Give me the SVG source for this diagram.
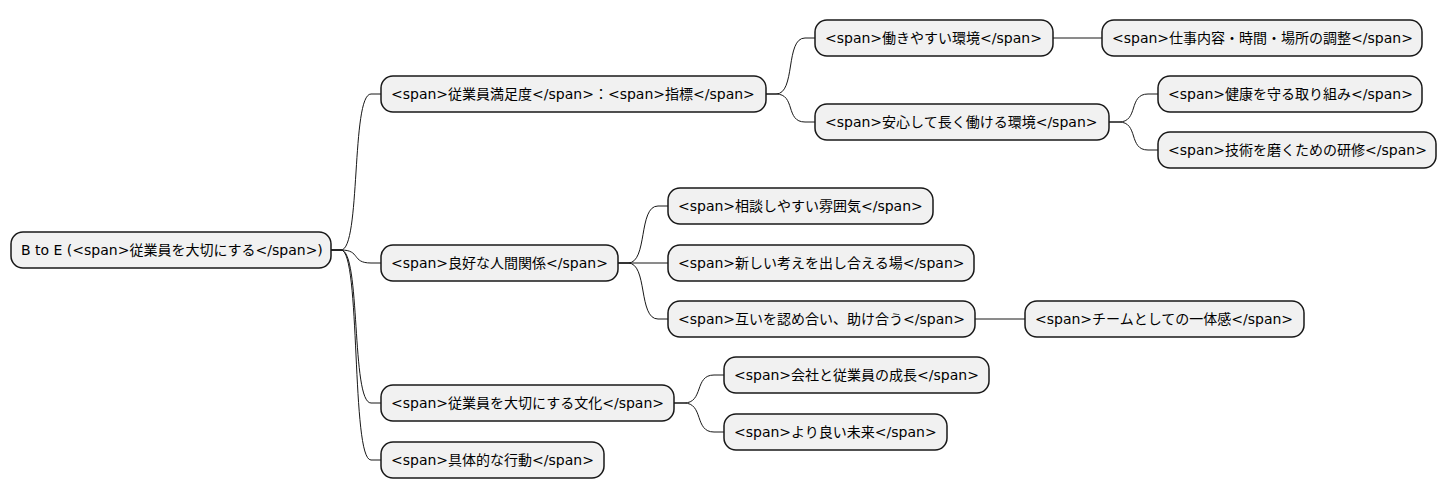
<svg xmlns="http://www.w3.org/2000/svg" width="1447" height="499" viewBox="0 0 1447 499">
<style>
.n rect{fill:#F1F1F1;stroke:#181818;stroke-width:1.5}
.n text{font-family:"DejaVu Sans","Noto Sans CJK JP",sans-serif;font-size:14px;fill:#000}
#c path{fill:none;stroke:#181818;stroke-width:1}
</style>
<rect width="1447" height="499" fill="#fff"/>
<g id="c">
<path d="M331,250 L341,250 C361,250 351,94 371,94 L381,94"/>
<path d="M331,250 L341,250 C361,250 351,263 371,263 L381,263"/>
<path d="M331,250 L341,250 C361,250 351,403 371,403 L381,403"/>
<path d="M331,250 L341,250 C361,250 351,460 371,460 L381,460"/>
<path d="M766,94 L776,94 C796,94 785,38 805,38 L815,38"/>
<path d="M766,94 L776,94 C796,94 785,122 805,122 L815,122"/>
<path d="M1053,38 L1102,38"/>
<path d="M1109,122 L1119,122 C1139,122 1128,94 1148,94 L1158,94"/>
<path d="M1109,122 L1119,122 C1139,122 1128,150 1148,150 L1158,150"/>
<path d="M618,263 L628,263 C648,263 638,206 658,206 L668,206"/>
<path d="M618,263 L668,263"/>
<path d="M618,263 L628,263 C648,263 638,319 658,319 L668,319"/>
<path d="M975,319 L1025,319"/>
<path d="M674,403 L684,403 C704,403 694,375 714,375 L724,375"/>
<path d="M674,403 L684,403 C704,403 694,432 714,432 L724,432"/>
</g>
<g id="root" class="n"><rect x="11" y="232" width="320" height="36" rx="12"/><text x="21" y="255">B to E (&lt;span&gt;従業員を大切にする&lt;/span&gt;)</text></g>
<g id="a" class="n"><rect x="381" y="76" width="385" height="36" rx="12"/><text x="391" y="99">&lt;span&gt;従業員満足度&lt;/span&gt;：&lt;span&gt;指標&lt;/span&gt;</text></g>
<g id="a1" class="n"><rect x="815" y="20" width="238" height="36" rx="12"/><text x="825" y="43">&lt;span&gt;働きやすい環境&lt;/span&gt;</text></g>
<g id="a1a" class="n"><rect x="1102" y="20" width="320" height="36" rx="12"/><text x="1112" y="43">&lt;span&gt;仕事内容・時間・場所の調整&lt;/span&gt;</text></g>
<g id="a2" class="n"><rect x="815" y="104" width="294" height="36" rx="12"/><text x="825" y="127">&lt;span&gt;安心して長く働ける環境&lt;/span&gt;</text></g>
<g id="a2a" class="n"><rect x="1158" y="76" width="264" height="36" rx="12"/><text x="1168" y="99">&lt;span&gt;健康を守る取り組み&lt;/span&gt;</text></g>
<g id="a2b" class="n"><rect x="1158" y="132" width="278" height="36" rx="12"/><text x="1168" y="155">&lt;span&gt;技術を磨くための研修&lt;/span&gt;</text></g>
<g id="b" class="n"><rect x="381" y="245" width="237" height="36" rx="12"/><text x="391" y="268">&lt;span&gt;良好な人間関係&lt;/span&gt;</text></g>
<g id="b1" class="n"><rect x="668" y="188" width="265" height="36" rx="12"/><text x="678" y="211">&lt;span&gt;相談しやすい雰囲気&lt;/span&gt;</text></g>
<g id="b2" class="n"><rect x="668" y="245" width="306" height="36" rx="12"/><text x="678" y="268">&lt;span&gt;新しい考えを出し合える場&lt;/span&gt;</text></g>
<g id="b3" class="n"><rect x="668" y="301" width="307" height="36" rx="12"/><text x="678" y="324">&lt;span&gt;互いを認め合い、助け合う&lt;/span&gt;</text></g>
<g id="b3a" class="n"><rect x="1025" y="301" width="279" height="36" rx="12"/><text x="1035" y="324">&lt;span&gt;チームとしての一体感&lt;/span&gt;</text></g>
<g id="cc" class="n"><rect x="381" y="385" width="293" height="36" rx="12"/><text x="391" y="408">&lt;span&gt;従業員を大切にする文化&lt;/span&gt;</text></g>
<g id="c1" class="n"><rect x="724" y="357" width="265" height="36" rx="12"/><text x="734" y="380">&lt;span&gt;会社と従業員の成長&lt;/span&gt;</text></g>
<g id="c2" class="n"><rect x="724" y="414" width="223" height="36" rx="12"/><text x="734" y="437">&lt;span&gt;より良い未来&lt;/span&gt;</text></g>
<g id="d" class="n"><rect x="381" y="442" width="223" height="36" rx="12"/><text x="391" y="465">&lt;span&gt;具体的な行動&lt;/span&gt;</text></g>
</svg>
